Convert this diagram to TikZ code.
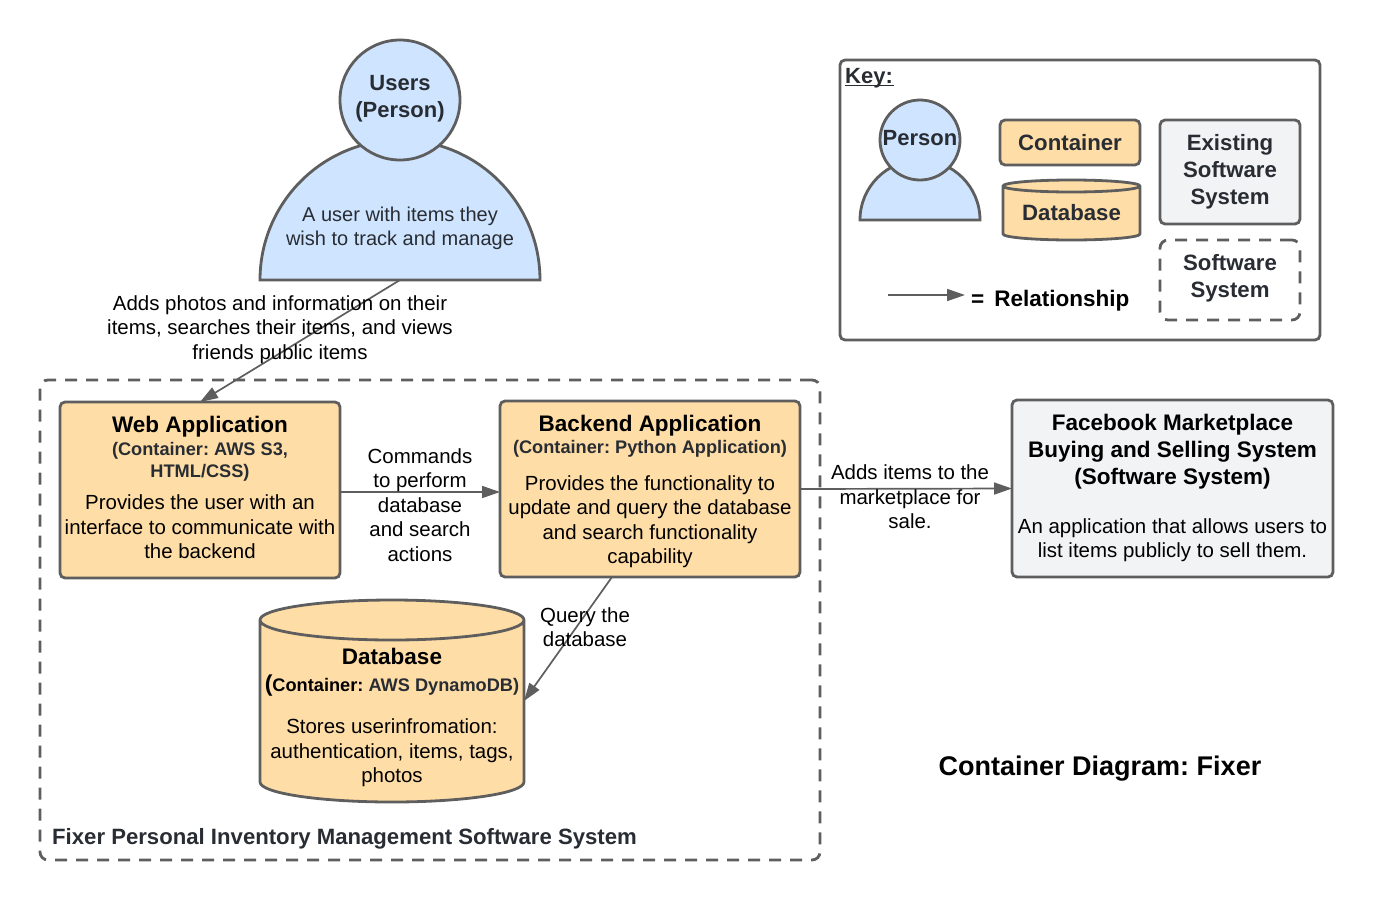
\documentclass[tikz,border=0pt]{standalone}
\usepackage{fontspec}
\setmainfont{Liberation Sans}
\usetikzlibrary{arrows.meta, positioning, shapes.geometric}
\definecolor{linegray}{HTML}{5E5E5E}
\definecolor{inkgray}{HTML}{282C33}
\definecolor{boxorange}{HTML}{FFDDA6}
\definecolor{boxblue}{HTML}{CFE4FF}
\definecolor{boxgray}{HTML}{F2F3F5}
\frenchspacing

\begin{document}
\begin{tikzpicture}[
  x=1pt, y=-1pt,
  container/.style={rectangle, rounded corners=5pt, draw=linegray, line width=2.8pt, fill=boxorange, outer sep=0pt, minimum width=#1},
  existing/.style={rectangle, rounded corners=5pt, draw=linegray, line width=2.8pt, fill=boxgray, outer sep=0pt},
  softsys/.style={rectangle, rounded corners=8pt, draw=linegray, line width=2.8pt, dash pattern=on 12pt off 9pt, outer sep=0pt},
  dbshape/.style={draw=linegray, line width=2.8pt, fill=boxorange, line join=round},
  person/.style={circle, draw=linegray, line width=2.8pt, fill=boxblue, inner sep=0pt, outer sep=0pt},
  shoulder/.style={draw=linegray, line width=2.8pt, fill=boxblue},
  rel/.style={draw=linegray, line width=1.7pt, -{Triangle[length=18pt,width=12pt]}},
  plain/.style={inner sep=0pt, align=center, font=\fontsize{20.45}{24.5}\selectfont},
  grayplain/.style={inner sep=0pt, align=center, text=inkgray, font=\fontsize{20}{24.5}\selectfont},
  title/.style={inner sep=0pt, align=center, font=\fontsize{22.5}{27}\bfseries\selectfont},
  sub/.style={inner sep=0pt, align=center, text=inkgray, font=\fontsize{18.2}{22}\bfseries\selectfont},
  keytext/.style={inner sep=0pt, align=center, text=inkgray, font=\fontsize{22.2}{27}\bfseries\selectfont}
]
  \useasboundingbox (0,0) rectangle (1373,900);

  % system boundary
  \node[softsys, minimum width=780pt, minimum height=480pt] (boundary) at (430,620) {};
  \node[inner sep=0pt, anchor=west, text=inkgray, font=\fontsize{22.15}{27}\bfseries\selectfont] (boundarytext) at (52,839) {Fixer Personal Inventory Management Software System};

  % user
  \draw[shoulder] (260,280) arc[start angle=180, end angle=360, radius=140] -- cycle;
  \node[minimum width=280pt, minimum height=140pt, inner sep=0pt, outer sep=0pt] (usersbody) at (400,210) {};
  \node[person, minimum size=120pt] (users) at (400,100) {};
  \node[keytext, font=\fontsize{22}{27}\bfseries\selectfont] (userslabel) at (400,99) {Users\\(Person)};
  \node[grayplain] (userstext) at (400,228.5) {A user with items they\\wish to track and manage};

  % containers
  \node[container=280pt, minimum height=176pt] (web) at (200,490) {};
  \node[title] (webtitle) at (200,427) {Web Application};
  \node[sub] (websub) at (200,462) {(Container: AWS S3,\\HTML/CSS)};
  \node[plain] (webtext) at (200,527) {Provides the user with an\\interface to communicate with\\the backend};

  \node[container=300pt, minimum height=176pt] (backend) at (650,489) {};
  \node[title] (backendtitle) at (650,426) {Backend Application};
  \node[sub] (backendsub) at (650,449) {(Container: Python Application)};
  \node[plain] (backendtext) at (650,521.5) {Provides the functionality to\\update and query the database\\and search functionality\\capability};

  \draw[dbshape] (260,620) -- (260,782) arc[x radius=132, y radius=20, start angle=180, end angle=0]
    -- (524,620) arc[x radius=132, y radius=20, start angle=360, end angle=180]
    arc[x radius=132, y radius=20, start angle=180, end angle=0];
  \node[minimum width=264pt, minimum height=202pt, inner sep=0pt, outer sep=0pt] (db) at (392,701) {};
  \node[title] (dbtitle) at (392,656) {Database};
  \node[sub] (dbsub) at (392,686) {{\fontsize{23}{27}\selectfont\color{black}(}{\color{black}Container:} AWS DynamoDB)};
  \node[plain] (dbtext) at (392,753) {Stores userinfromation:\\authentication, items, tags,\\photos};

  % external system
  \node[existing, minimum width=321pt, minimum height=177pt] (facebook) at (1172.5,488.5) {};
  \node[title] (facebooktitle) at (1172.5,452) {Facebook Marketplace\\Buying and Selling System\\(Software System)};
  \node[plain] (facebooktext) at (1172.5,540) {An application that allows users to\\list items publicly to sell them.};

  % relationships
  \coordinate (queryfrom) at (612,577);
  \draw[rel] (usersbody.south) -- (web.north);
  \draw[rel] ([yshift=-2pt]web.east) -- ([yshift=-2pt]backend.west |- web.east);
  \draw[rel] (backend.east) -- (facebook.west);
  \draw[rel] (queryfrom) -- (db.east);

  \node[plain] (addstext) at (280,329.5) {Adds photos and information on their\\items, searches their items, and views\\friends public items};
  \node[plain] (commandstext) at (420,505) {Commands\\to perform\\database\\and search\\actions};
  \node[plain] (marketplacetext) at (910,497) {Adds items to the\\marketplace for\\sale.};
  \node[plain] (querytext) at (585,627) {Query the\\database};

  % key
  \node[rectangle, rounded corners=5pt, draw=linegray, line width=2.8pt, minimum width=480pt, minimum height=280pt] (key) at (1080,200) {};
  \node[inner sep=0pt, anchor=west, text=inkgray, font=\fontsize{22}{27}\bfseries\selectfont] (keytitle) at (845,78) {\rlap{\rule[-3pt]{48.5pt}{1.5pt}}Key:};

  \draw[shoulder] (860,220) arc[start angle=180, end angle=360, radius=60] -- cycle;
  \node[person, minimum size=80pt] (keyperson) at (920,140) {};
  \node[keytext, font=\fontsize{22}{27}\bfseries\selectfont] (keypersontext) at (920,138) {Person};

  \node[container=140pt, minimum height=45pt, keytext] (keycontainer) at (1070,142.5) {Container};
  \draw[dbshape] (1003,186) -- (1003,234) arc[x radius=68.5, y radius=6, start angle=180, end angle=0]
    -- (1140,186) arc[x radius=68.5, y radius=6, start angle=360, end angle=180]
    arc[x radius=68.5, y radius=6, start angle=180, end angle=0];
  \node[keytext] (keydbtext) at (1071.5,213) {Database};
  \node[existing, minimum width=140pt, minimum height=104pt, keytext] (keyexisting) at (1230,172) {Existing\\Software\\System};
  \node[softsys, minimum width=140pt, minimum height=80pt] (keysoft) at (1230,280) {};
  \node[keytext] (keysofttext) at (1230,278) {Software\\System};

  \coordinate (keyfrom) at (888,295);
  \coordinate (keyto) at (965,295);
  \draw[rel] (keyfrom) -- (keyto);
  \node[inner sep=0pt, anchor=west, font=\fontsize{22.5}{27}\bfseries\selectfont] (keyrel) at (971,301) {=\hspace{10pt}Relationship};

  % diagram title
  \node[inner sep=0pt, font=\fontsize{27}{32}\bfseries\selectfont] (diagramtitle) at (1100,769) {Container Diagram: Fixer};
\end{tikzpicture}
\end{document}
